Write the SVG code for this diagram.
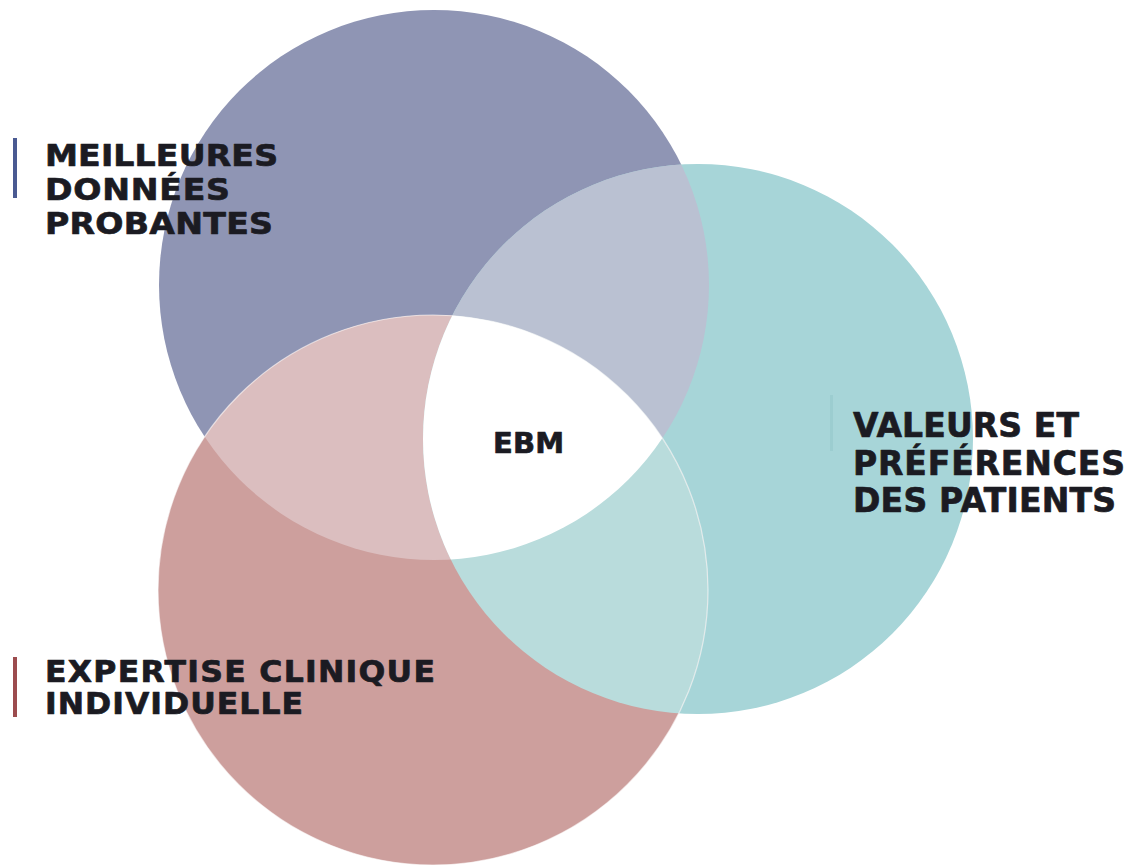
<svg xmlns="http://www.w3.org/2000/svg" width="1134" height="868" viewBox="0 0 1134 868">
<style>
.lbl{font-family:"DejaVu Sans","Liberation Sans",sans-serif;font-weight:bold;fill:#1b1b22;stroke:#1b1b22;stroke-width:0.7;stroke-linejoin:round;}
</style>
<defs>
<clipPath id="cTop"><circle cx="434" cy="285" r="275"/></clipPath>
<clipPath id="cTeal"><circle cx="698" cy="439" r="275"/></clipPath>
</defs>
<rect width="1134" height="868" fill="#ffffff"/>
<g id="node-donnees">
<circle cx="434" cy="285" r="275" fill="#8f95b4"/>
</g>
<g id="node-valeurs">
<circle cx="698" cy="439" r="275" fill="#a7d5d8"/>
</g>
<g id="node-expertise">
<circle cx="433" cy="590" r="275" fill="#cd9f9d"/>
</g>
<g id="overlaps">
<circle cx="698" cy="439" r="275" fill="#bac1d2" clip-path="url(#cTop)"/>
<circle cx="433" cy="590" r="275" fill="#dbbebf" clip-path="url(#cTop)"/>
<circle cx="433" cy="590" r="275" fill="#b9dcdc" clip-path="url(#cTeal)"/>
<g clip-path="url(#cTop)"><circle cx="433" cy="590" r="275" fill="#ffffff" clip-path="url(#cTeal)"/></g>
<circle cx="433" cy="590" r="275" fill="none" stroke="#ffffff" stroke-opacity="0.6" stroke-width="1.2"/>
</g>
<g id="label-donnees">
<rect x="13" y="138" width="4" height="60" fill="#4a5a92"/>
<g transform="translate(45,0) scale(1.07,1) translate(-45,0)">
<text class="lbl" font-size="31" x="45" y="166" textLength="217.8" lengthAdjust="spacing">MEILLEURES</text>
<text class="lbl" font-size="31" x="45" y="200" textLength="172.9" lengthAdjust="spacing">DONNÉES</text>
<text class="lbl" font-size="31" x="45" y="234" textLength="213.1" lengthAdjust="spacing">PROBANTES</text>
</g>
</g>
<g id="label-valeurs">
<rect x="830" y="395" width="3" height="56" fill="#9ccdd0"/>
<text class="lbl" font-size="33" x="853" y="437" textLength="226" lengthAdjust="spacing">VALEURS ET</text>
<text class="lbl" font-size="33" x="853" y="475" textLength="272" lengthAdjust="spacing">PRÉFÉRENCES</text>
<text class="lbl" font-size="33" x="853" y="512" textLength="263" lengthAdjust="spacing">DES PATIENTS</text>
</g>
<g id="label-expertise">
<rect x="13" y="657" width="4" height="60" fill="#9c4c4e"/>
<g transform="translate(45,0) scale(1.05,1) translate(-45,0)">
<text class="lbl" font-size="30" x="45" y="682" textLength="371.4" lengthAdjust="spacing">EXPERTISE CLINIQUE</text>
<text class="lbl" font-size="30" x="45" y="714" textLength="245.7" lengthAdjust="spacing">INDIVIDUELLE</text>
</g>
</g>
<g id="node-ebm">
<text class="lbl" font-size="29" x="493" y="453" textLength="71" lengthAdjust="spacing">EBM</text>
</g>
</svg>
